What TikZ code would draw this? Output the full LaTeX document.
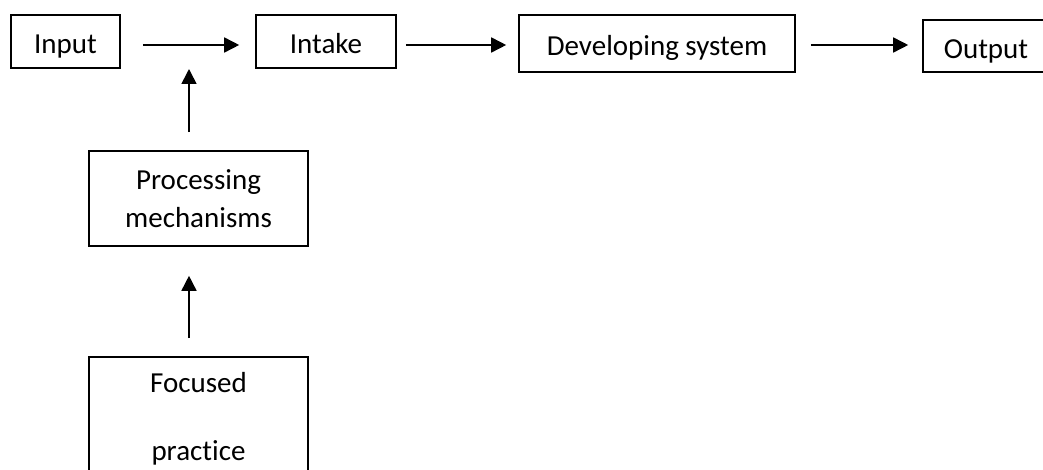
\documentclass[tikz,border=0pt]{standalone}
\usepackage{fontspec}
\setmainfont{Carlito}[Ligatures=NoCommon]
\usepackage{tikz}
\usetikzlibrary{arrows.meta,positioning,calc}

\begin{document}
\begin{tikzpicture}[
  x=0.5pt,y=-0.5pt,
  every node/.style={font=\fontsize{14.5}{19}\selectfont},
  box/.style={rectangle,draw=black,line width=0.8pt,inner sep=0pt},
  line/.style={box,text height=12.5pt,text depth=0pt},
  arrow/.style={-{Triangle[length=7.5pt,width=7.5pt]},line width=0.8pt}
]
\useasboundingbox (0,0) rectangle (1043,470);
\clip (0,0) rectangle (1043,470);
% top row
\node[line,minimum width=54.5pt,minimum height=26.5pt] (input) at (65.5,41.5) {Input};
\node[line,minimum width=70pt,minimum height=26.5pt] (intake) at (326,41.5) {Intake};
\node[line,minimum width=138pt,minimum height=28.5pt] (devel) at (657,43.5) {Developing system};
\node[line,minimum width=63pt,minimum height=26pt] (output) at (986,46) {Output};
% left column
\node[box,align=center,minimum width=109.5pt,minimum height=47.5pt] (proc) at (198.5,198.5) {Processing\\mechanisms};
\node[box,align=center,minimum width=109.5pt,minimum height=62pt] (focus) at (198.5,419) {Focused\\[15pt]practice};
\coordinate (join) at (189,45);

\draw[arrow,shorten <=11pt,shorten >=8pt] (input.east |- join) -- (intake.west |- join);
\draw[arrow,shorten <=4.5pt,shorten >=6pt] (intake.east |- join) -- (devel.west |- join);
\draw[arrow,shorten <=7.5pt,shorten >=7pt] (devel.east |- join) -- (output.west |- join);
\draw[arrow,shorten <=9pt,shorten >=12pt] (proc.north -| join) -- (join);
\draw[arrow,shorten <=9pt,shorten >=14.5pt] (focus.north -| join) -- (proc.south -| join);
\end{tikzpicture}
\end{document}
